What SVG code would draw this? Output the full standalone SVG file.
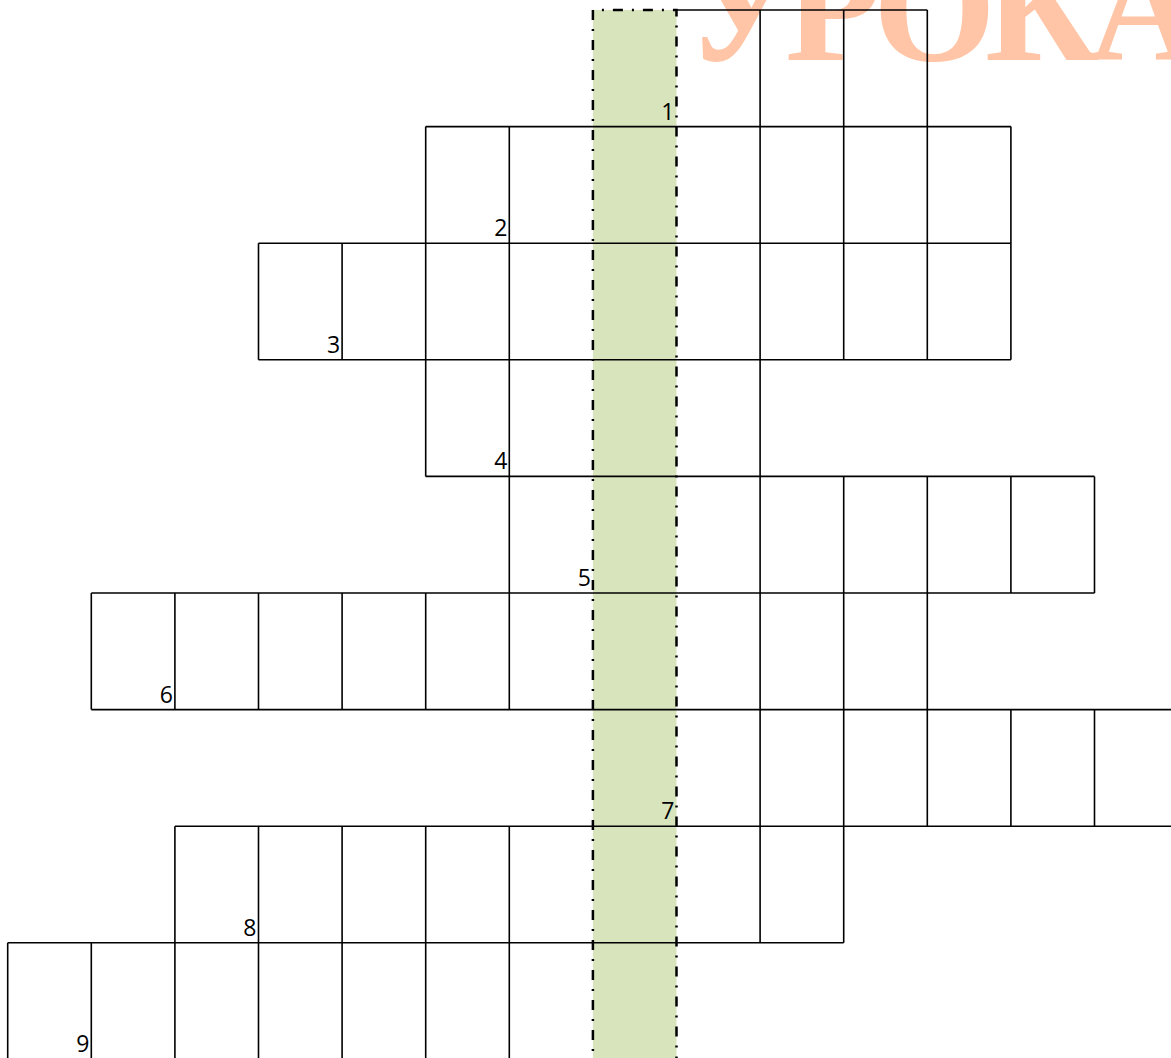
<svg xmlns="http://www.w3.org/2000/svg" width="1171" height="1058" viewBox="0 0 1171 1058">
<style>
.g{stroke:#000;stroke-width:1.6;fill:none}
.dd{stroke:#000;stroke-width:2.5;fill:none;stroke-dasharray:10 9 2 9}
.n{font-family:"Open Sans","Noto Sans",sans-serif;font-size:23px;fill:#000;text-anchor:end}
.wm{font-family:"Liberation Serif","DejaVu Serif",serif;font-weight:bold;font-size:158px;fill:#FFC5A6}
</style>
<rect width="1171" height="1058" fill="#fff"/>
<g id="highlight">
<rect x="592.9" y="10" width="83.6" height="1060" fill="#D8E4BC"/>
</g>
<g id="watermark">
<text class="wm" x="684 785 873 985 1089" y="60">УРОКА</text>
</g>
<g id="grid">
<path class="g" d="M676.5 10H927.3 M425.7 126.6H1010.9 M258.5 243.2H1010.9 M258.5 359.8H1010.9 M425.7 476.4H1094.5 M91.3 593H1094.5 M91.3 709.6H1171 M174.9 826.2H1171 M7.7 942.8H843.7"/>
<path class="g" d="M760.1 10V126.6 M843.7 10V126.6 M927.3 10V126.6
M425.7 126.6V243.2 M509.3 126.6V243.2 M760.1 126.6V243.2 M843.7 126.6V243.2 M927.3 126.6V243.2 M1010.9 126.6V243.2
M258.5 243.2V359.8 M342.1 243.2V359.8 M425.7 243.2V359.8 M509.3 243.2V359.8 M760.1 243.2V359.8 M843.7 243.2V359.8 M927.3 243.2V359.8 M1010.9 243.2V359.8
M425.7 359.8V476.4 M509.3 359.8V476.4 M760.1 359.8V476.4
M509.3 476.4V593 M760.1 476.4V593 M843.7 476.4V593 M927.3 476.4V593 M1010.9 476.4V593 M1094.5 476.4V593
M91.3 593V709.6 M174.9 593V709.6 M258.5 593V709.6 M342.1 593V709.6 M425.7 593V709.6 M509.3 593V709.6 M760.1 593V709.6 M843.7 593V709.6 M927.3 593V709.6
M760.1 709.6V826.2 M843.7 709.6V826.2 M927.3 709.6V826.2 M1010.9 709.6V826.2 M1094.5 709.6V826.2
M174.9 826.2V942.8 M258.5 826.2V942.8 M342.1 826.2V942.8 M425.7 826.2V942.8 M509.3 826.2V942.8 M760.1 826.2V942.8 M843.7 826.2V942.8
M7.7 942.8V1060 M91.3 942.8V1060 M174.9 942.8V1060 M258.5 942.8V1060 M342.1 942.8V1060 M425.7 942.8V1060 M509.3 942.8V1060"/>
<path class="dd" d="M592.9 1070V10H676.5V1070"/>
</g>
<g id="labels">
<text class="n" x="674.5" y="119.6">1</text>
<text class="n" x="507.3" y="236.2">2</text>
<text class="n" x="340.1" y="352.8">3</text>
<text class="n" x="507.3" y="469.4">4</text>
<text class="n" x="590.9" y="586">5</text>
<text class="n" x="172.9" y="702.6">6</text>
<text class="n" x="674.5" y="819.2">7</text>
<text class="n" x="256.5" y="935.8">8</text>
<text class="n" x="89.3" y="1051.8">9</text>
</g>
</svg>
